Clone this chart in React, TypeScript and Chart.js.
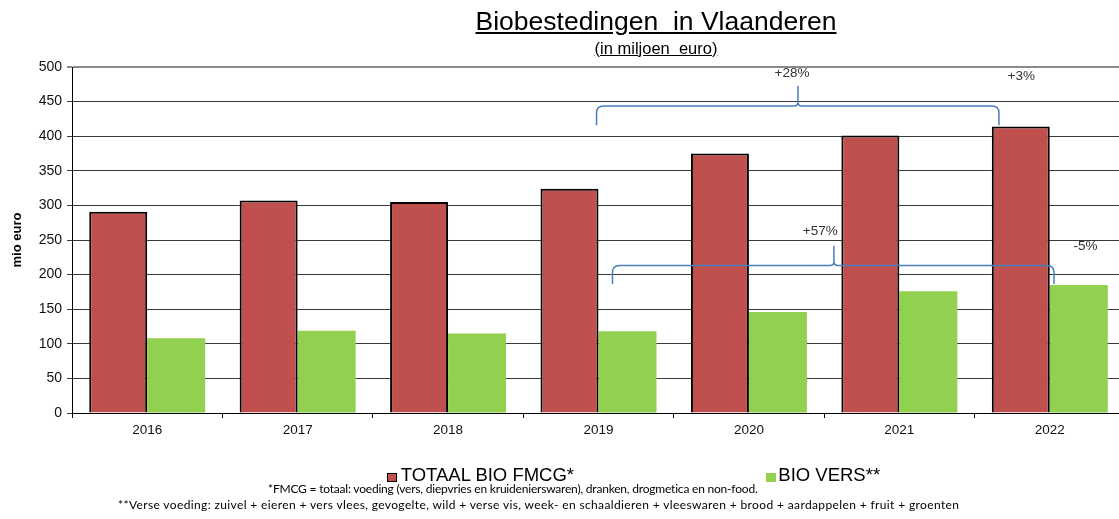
import React, { useEffect, useRef } from "react";
import { Chart, registerables } from "chart.js";

Chart.register(...registerables);

// ---- data ----
const years = ["2016", "2017", "2018", "2019", "2020", "2021", "2022"];
const totaalBioFmcg = [291, 307, 305, 324, 375, 401, 414];
const bioVers = [108, 119, 115, 118, 146, 176, 185];
const seriesNames = ["TOTAAL BIO FMCG*", "BIO VERS**"];
const yTicksMax = 500;
const yTicksStep = 50;

// ---- annotations (category index / value coordinates) ----
const braceFrom = [2.987, 3.093];
const braceTo = [5.662, 6.028];
const braceLine = [443.5, 213];
const braceEnd = [416, 186.5];
const bracePeak = [472.5, 241.6];
const bracePeakAt = [4.326, 4.565];
const noteTexts = ["+28%", "+3%", "+57%", "-5%"];
const noteX = [4.286, 5.81, 4.474, 6.237];
const noteY = [491, 487, 263.3, 241.6];

const FONT = "'Liberation Sans', Arial, sans-serif";
const RED = "#C0504D";
const GREEN = "#92D050";

const bracePlugin = {
  id: "braces",
  afterDatasetsDraw(chart: any) {
    const { ctx } = chart;
    const xs = chart.scales.x;
    const ys = chart.scales.y;
    ctx.save();
    ctx.strokeStyle = "#4A7EBB";
    ctx.lineWidth = 1.5;
    for (let i = 0; i < braceFrom.length; i++) {
      const l = xs.getPixelForValue(braceFrom[i]);
      const r = xs.getPixelForValue(braceTo[i]);
      const m = xs.getPixelForValue(bracePeakAt[i]);
      const ly = ys.getPixelForValue(braceLine[i]);
      const by = ys.getPixelForValue(braceEnd[i]);
      const py = ys.getPixelForValue(bracePeak[i]);
      const rr = 7;
      const r2 = 4;
      ctx.beginPath();
      ctx.moveTo(l, by);
      ctx.lineTo(l, ly + rr);
      ctx.quadraticCurveTo(l, ly, l + rr, ly);
      ctx.lineTo(m - r2, ly);
      ctx.quadraticCurveTo(m, ly, m, ly - r2);
      ctx.lineTo(m, py);
      ctx.moveTo(m, ly - r2);
      ctx.quadraticCurveTo(m, ly, m + r2, ly);
      ctx.lineTo(r - rr, ly);
      ctx.quadraticCurveTo(r, ly, r, ly + rr);
      ctx.lineTo(r, by);
      ctx.stroke();
    }
    ctx.fillStyle = "#333";
    ctx.font = `13.5px ${FONT}`;
    ctx.textAlign = "center";
    ctx.textBaseline = "middle";
    for (let i = 0; i < noteTexts.length; i++) {
      ctx.fillText(noteTexts[i], xs.getPixelForValue(noteX[i]), ys.getPixelForValue(noteY[i]));
    }
    ctx.restore();
  },
};

export default function App() {
  const ref = useRef<HTMLCanvasElement | null>(null);

  useEffect(() => {
    document.body.style.margin = "0";
    const chart = new Chart(ref.current as HTMLCanvasElement, {
      type: "bar",
      data: {
        labels: years,
        datasets: [
          {
            label: seriesNames[0],
            data: totaalBioFmcg,
            backgroundColor: RED,
            borderColor: "#000",
            borderWidth: 2,
            categoryPercentage: 0.771,
            barPercentage: 1,
          },
          {
            label: seriesNames[1],
            data: bioVers,
            backgroundColor: GREEN,
            borderWidth: 0,
            categoryPercentage: 0.771,
            barPercentage: 1,
          },
        ],
      },
      options: {
        responsive: false,
        animation: false,
        devicePixelRatio: 1,
        layout: { padding: { top: 67, right: 15, left: 0, bottom: 0 } },
        plugins: {
          legend: { display: false },
          tooltip: { enabled: false },
          title: { display: false },
        },
        scales: {
          x: {
            grid: {
              drawOnChartArea: false,
              drawTicks: true,
              tickLength: 5,
              color: "#000",
              offset: true,
            },
            border: { color: "#000", width: 1 },
            ticks: { font: { family: FONT, size: 13.5 }, color: "#111", padding: 4 },
            afterFit: (s: any) => {
              s.height = 106;
            },
          },
          y: {
            min: 0,
            max: yTicksMax,
            ticks: { stepSize: yTicksStep, font: { family: FONT, size: 14 }, color: "#111", padding: 5 },
            grid: {
              color: (c: any) => (c.tick && c.tick.value === yTicksMax ? "#8a8a8a" : "#3a3a3a"),
              lineWidth: (c: any) => (c.tick && c.tick.value === yTicksMax ? 2 : 1),
              tickLength: 5,
              drawTicks: true,
            },
            border: { color: "#000", width: 1 },
            title: {
              display: true,
              text: "mio euro",
              font: { family: FONT, size: 13, weight: "bold" },
              color: "#000",
              padding: { top: 10, bottom: 0 },
            },
            afterFit: (s: any) => {
              s.width = 72;
            },
          },
        },
      },
      plugins: [bracePlugin],
    } as any);
    return () => chart.destroy();
  }, []);

  const legendText: React.CSSProperties = {
    position: "absolute",
    fontFamily: FONT,
    fontSize: 18.5,
    lineHeight: 1,
    color: "#000",
    whiteSpace: "pre",
    top: 466.3,
  };
  const foot: React.CSSProperties = {
    position: "absolute",
    fontFamily: "Lato, 'Open Sans', sans-serif",
    fontSize: 12,
    lineHeight: 1,
    color: "#000",
    whiteSpace: "pre",
  };

  return (
    <div
      style={{
        position: "fixed",
        left: 0,
        top: 0,
        width: 1119,
        height: 519,
        overflow: "hidden",
        background: "#fff",
      }}
    >
      <canvas ref={ref} width={1140} height={519} style={{ position: "absolute", left: 0, top: 0 }} />
      <div
        style={{
          position: "absolute",
          left: 656,
          top: 7.6,
          transform: "translateX(-50%)",
          fontFamily: FONT,
          fontSize: 26.5,
          lineHeight: 1,
          whiteSpace: "pre",
          textDecoration: "underline",
          color: "#000",
        }}
      >
        {"Biobestedingen  in Vlaanderen"}
      </div>
      <div
        style={{
          position: "absolute",
          left: 656,
          top: 39.5,
          transform: "translateX(-50%)",
          fontFamily: FONT,
          fontSize: 16.5,
          lineHeight: 1,
          whiteSpace: "pre",
          textDecoration: "underline",
          color: "#000",
        }}
      >
        {"(in miljoen  euro)"}
      </div>
      <div
        style={{
          position: "absolute",
          left: 387,
          top: 472.5,
          width: 10,
          height: 9.5,
          boxSizing: "border-box",
          background: RED,
          border: "1px solid #000",
        }}
      />
      <div style={{ ...legendText, left: 400.7 }}>{seriesNames[0]}</div>
      <div
        style={{
          position: "absolute",
          left: 766,
          top: 472.5,
          width: 9.5,
          height: 9.5,
          background: GREEN,
        }}
      />
      <div style={{ ...legendText, left: 778.3 }}>{seriesNames[1]}</div>
      <div style={{ ...foot, left: 268, top: 482.7, letterSpacing: "-0.2px" }}>
        {"*FMCG = totaal: voeding (vers, diepvries en kruidenierswaren), dranken, drogmetica en non-food."}
      </div>
      <div style={{ ...foot, left: 118, top: 498.7, letterSpacing: "0.37px" }}>
        {"**Verse voeding: zuivel + eieren + vers vlees, gevogelte, wild + verse vis, week- en schaaldieren + vleeswaren + brood + aardappelen + fruit + groenten"}
      </div>
    </div>
  );
}
